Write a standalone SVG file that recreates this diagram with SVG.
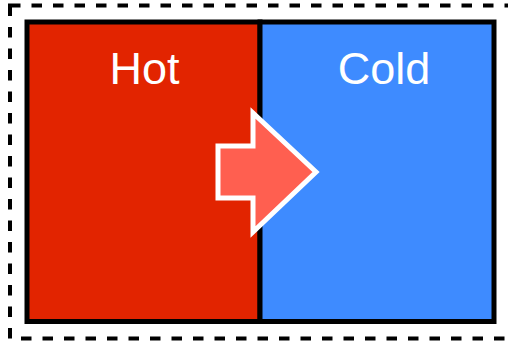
<svg xmlns="http://www.w3.org/2000/svg" width="508" height="342" viewBox="0 0 508 342">
  <style>
    .label { font-family: "Liberation Sans", Arial, sans-serif; font-size: 45px; fill: #ffffff; text-anchor: middle; }
    .box { stroke: #000000; stroke-width: 5; }
  </style>
  <rect x="0" y="0" width="508" height="342" fill="#ffffff"/>
  <g id="boundary">
    <rect x="10" y="5.5" width="500" height="333" fill="none" stroke="#000000" stroke-width="4" stroke-dasharray="10.5 11"/>
  </g>
  <g id="hot">
    <rect class="box" x="27" y="22" width="233" height="299.5" fill="#e22400"/>
    <text class="label" x="144.5" y="84">Hot</text>
  </g>
  <g id="cold">
    <rect class="box" x="260" y="22" width="234" height="299.5" fill="#3e8bff"/>
    <text class="label" x="384" y="84">Cold</text>
  </g>
  <g id="connectors">
    <polygon points="218,146 253,146 253,113 316,172 253,232 253,198 218,198" fill="#ff5f50" stroke="#ffffff" stroke-width="5"/>
  </g>
</svg>
